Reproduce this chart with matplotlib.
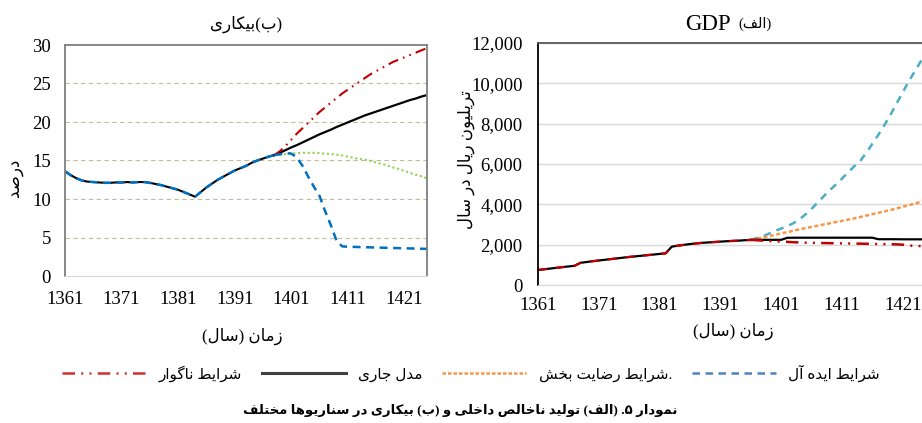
import numpy as np
import matplotlib
matplotlib.use('Agg')
import matplotlib.pyplot as plt
from matplotlib.lines import Line2D

plt.rcParams['font.family'] = ['Liberation Serif', 'DejaVu Sans']

# Persian letters -> (isolated, final, initial, medial) presentation forms
FORMS = {
    'ا': ('\uFE8D', '\uFE8E', None, None),
    'آ': ('\uFE81', '\uFE82', None, None),
    'ب': ('\uFE8F', '\uFE90', '\uFE91', '\uFE92'),
    'پ': ('\uFB56', '\uFB57', '\uFB58', '\uFB59'),
    'ت': ('\uFE95', '\uFE96', '\uFE97', '\uFE98'),
    'ج': ('\uFE9D', '\uFE9E', '\uFE9F', '\uFEA0'),
    'خ': ('\uFEA5', '\uFEA6', '\uFEA7', '\uFEA8'),
    'د': ('\uFEA9', '\uFEAA', None, None),
    'ر': ('\uFEAD', '\uFEAE', None, None),
    'ز': ('\uFEAF', '\uFEB0', None, None),
    'س': ('\uFEB1', '\uFEB2', '\uFEB3', '\uFEB4'),
    'ش': ('\uFEB5', '\uFEB6', '\uFEB7', '\uFEB8'),
    'ص': ('\uFEB9', '\uFEBA', '\uFEBB', '\uFEBC'),
    'ض': ('\uFEBD', '\uFEBE', '\uFEBF', '\uFEC0'),
    'ط': ('\uFEC1', '\uFEC2', '\uFEC3', '\uFEC4'),
    'ف': ('\uFED1', '\uFED2', '\uFED3', '\uFED4'),
    'ک': ('\uFB8E', '\uFB8F', '\uFB90', '\uFB91'),
    'گ': ('\uFB92', '\uFB93', '\uFB94', '\uFB95'),
    'ل': ('\uFEDD', '\uFEDE', '\uFEDF', '\uFEE0'),
    'م': ('\uFEE1', '\uFEE2', '\uFEE3', '\uFEE4'),
    'ن': ('\uFEE5', '\uFEE6', '\uFEE7', '\uFEE8'),
    'و': ('\uFEED', '\uFEEE', None, None),
    'ه': ('\uFEE9', '\uFEEA', '\uFEEB', '\uFEEC'),
    'ی': ('\uFBFC', '\uFBFD', '\uFBFE', '\uFBFF'),
}


def fa(s):
    # join letters and flip to visual (left-to-right) order
    out = []
    for i, ch in enumerate(s):
        if ch not in FORMS:
            out.append(ch)
            continue
        prev = s[i - 1] if i > 0 else ''
        nxt = s[i + 1] if i < len(s) - 1 else ''
        jp = prev in FORMS and FORMS[prev][2] is not None
        jn = nxt in FORMS and FORMS[ch][2] is not None
        iso, fin, ini, med = FORMS[ch]
        if jp and jn:
            out.append(med)
        elif jp:
            out.append(fin)
        elif jn:
            out.append(ini)
        else:
            out.append(iso)
    mirror = {'(': ')', ')': '('}
    return ''.join(mirror.get(c, c) for c in reversed(out))


# ---------------- data ----------------
years = np.arange(1361, 1426)
hist_years = years[years <= 1398]
fut_years = years[years >= 1398]

# unemployment (%), common history 1361-1398
unemp_hist = [13.6, 13.1, 12.7, 12.4, 12.25, 12.2, 12.15, 12.1, 12.1, 12.15,
              12.15, 12.2, 12.15, 12.2, 12.2, 12.1, 11.95, 11.8, 11.6, 11.4,
              11.2, 10.9, 10.6, 10.3, 10.9, 11.5, 12.0, 12.5, 12.9, 13.3,
              13.7, 14.0, 14.3, 14.7, 15.0, 15.25, 15.5, 15.7]
# 1398-1425 by scenario
unemp_current = [15.7, 16.0, 16.35, 16.7, 17.0, 17.35, 17.7, 18.05, 18.4, 18.7,
                 19.0, 19.35, 19.65, 19.95, 20.25, 20.55, 20.85, 21.1, 21.35,
                 21.6, 21.85, 22.1, 22.35, 22.6, 22.85, 23.05, 23.3, 23.5]
unemp_bad = [15.7, 16.2, 16.9, 17.7, 18.5, 19.2, 19.9, 20.6, 21.3, 21.9,
             22.5, 23.1, 23.7, 24.2, 24.7, 25.2, 25.7, 26.2, 26.6, 27.0,
             27.4, 27.8, 28.1, 28.4, 28.7, 29.0, 29.3, 29.6]
unemp_satisf = [15.7, 15.75, 15.85, 15.9, 15.95, 16.0, 16.0, 16.0, 15.95, 15.9,
                15.85, 15.75, 15.65, 15.5, 15.35, 15.2, 15.1, 14.95, 14.75,
                14.55, 14.35, 14.1, 13.9, 13.65, 13.4, 13.15, 12.95, 12.7]
unemp_ideal = [15.7, 15.8, 15.95, 15.9, 15.4, 14.3, 12.9, 11.6, 10.4, 8.4,
               6.6, 4.6, 3.85, 3.8, 3.78, 3.76, 3.74, 3.72, 3.7, 3.68,
               3.66, 3.64, 3.62, 3.6, 3.58, 3.56, 3.54, 3.52]

# GDP (trillion rial), common history 1361-1396
gdp_years_hist = years[years <= 1396]
gdp_years_fut = years[years >= 1396]
gdp_hist = [744, 780, 815, 850, 885, 920, 950, 1100, 1140, 1180,
            1215, 1250, 1285, 1320, 1355, 1390, 1420, 1450, 1480, 1510,
            1540, 1570, 1900, 1950, 1990, 2030, 2060, 2090, 2110, 2130,
            2150, 2170, 2185, 2200, 2220, 2235]
# 1396-1425 by scenario
gdp_current = [2235, 2240, 2240, 2240, 2240, 2240, 2340, 2345, 2345, 2345,
               2345, 2345, 2345, 2345, 2345, 2345, 2345, 2345, 2345, 2345,
               2345, 2270, 2270, 2270, 2270, 2265, 2265, 2265, 2265, 2265]
gdp_bad = [2235, 2220, 2200, 2180, 2170, 2150, 2140, 2120, 2110, 2100,
           2090, 2085, 2080, 2075, 2070, 2065, 2060, 2055, 2050, 2045,
           2040, 2030, 2025, 2020, 2015, 2000, 1960, 1940, 1930, 1920]
gdp_satisf = [2235, 2300, 2360, 2420, 2490, 2560, 2620, 2690, 2760, 2820,
              2880, 2940, 3000, 3060, 3120, 3180, 3240, 3300, 3370, 3440,
              3510, 3580, 3650, 3720, 3800, 3880, 3960, 4040, 4120, 4200]
gdp_ideal = [2235, 2330, 2420, 2550, 2680, 2800, 2920, 3060, 3250, 3500,
             3780, 4080, 4400, 4700, 4980, 5270, 5580, 5880, 6150, 6550,
             7000, 7450, 7930, 8450, 9000, 9550, 10100, 10600, 11100, 11600]

xticks = [1361, 1371, 1381, 1391, 1401, 1411, 1421]

lbl_ideal = fa('شرایط ایده آل')
lbl_satisf = fa('.شرایط رضایت بخش')
lbl_current = fa('مدل جاری')
lbl_bad = fa('شرایط ناگوار')

RED = '#C00000'
DASHDOT2 = (5, 2.5, 0.8, 2.5, 0.8, 2.5)

fig = plt.figure(figsize=(9.22, 4.23), dpi=100)
W, H = 922, 423

# ---------------- (b) unemployment ----------------
ax1 = fig.add_axes([65 / W, 1 - 276 / H, (427 - 65) / W, (276 - 45) / H])
ax1.plot(hist_years, unemp_hist, color='black', lw=1.5)
ax1.plot(fut_years, unemp_satisf, color='#92D050', lw=1.5, dashes=(1, 1.3))
ax1.plot(fut_years, unemp_current, color='black', lw=1.6)
ax1.plot(fut_years, unemp_bad, color=RED, lw=1.5, dashes=DASHDOT2)
ax1.plot(hist_years, unemp_hist, color='#0070C0', lw=1.8, dashes=(3.2, 2.2))
ax1.plot(fut_years, unemp_ideal, color='#0070C0', lw=1.8, dashes=(3.2, 2.2))
ax1.set_xlim(1361, 1425)
ax1.set_ylim(0, 30)
ax1.set_xticks(xticks)
ax1.set_yticks(range(0, 31, 5))
for v in range(5, 30, 5):
    ax1.axhline(v, color='#C4BD97', lw=0.8, dashes=(4, 3), zorder=0)
ax1.tick_params(length=0, labelsize=13.5)
ax1.tick_params(axis='x', pad=11)
ax1.tick_params(axis='y', pad=10)
for s in ['left', 'top', 'right']:
    ax1.spines[s].set_color('#7F7F7F')
    ax1.spines[s].set_linewidth(1.3)
ax1.spines['bottom'].set_color('#D9D9D9')
ax1.set_title(fa('(ب)بیکاری'), fontsize=12, pad=12)
fig.text(242 / W, 1 - 336 / H, fa('زمان (سال)'), ha='center', va='center', fontsize=12)
fig.text(15 / W, 1 - 178 / H, fa('درصد'), ha='center', va='center', fontsize=12, rotation=90)

# ---------------- (a) GDP ----------------
ax2 = fig.add_axes([538 / W, 1 - 285 / H, (927 - 538) / W, (285 - 43) / H])
ax2.plot(gdp_years_hist, gdp_hist, color='black', lw=1.6)
ax2.plot(gdp_years_fut, gdp_ideal, color='#4BACC6', lw=1.8, dashes=(3, 2.5))
ax2.plot(gdp_years_fut, gdp_satisf, color='#F79646', lw=1.8, dashes=(1.6, 1))
ax2.plot(gdp_years_fut, gdp_current, color='black', lw=1.6)
ax2.plot(gdp_years_fut, gdp_bad, color=RED, lw=1.8, dashes=DASHDOT2)
ax2.plot(gdp_years_hist, gdp_hist, color=RED, lw=1.6, dashes=(4, 4))
ax2.set_xlim(1361, 1425)
ax2.set_ylim(0, 12000)
ax2.set_xticks(xticks)
ax2.set_yticks(range(0, 12001, 2000))
ax2.set_yticklabels([f'{v:,}' for v in range(0, 12001, 2000)])
ax2.grid(axis='y', color='#D9D9D9', lw=1)
ax2.set_axisbelow(True)
ax2.tick_params(length=0, labelsize=13.5)
ax2.tick_params(axis='x', pad=9)
ax2.tick_params(axis='y', pad=11)
ax2.spines['left'].set_color('black')
ax2.spines['left'].set_linewidth(1.3)
ax2.spines['top'].set_color('#595959')
ax2.spines['top'].set_linewidth(1.3)
ax2.spines['right'].set_visible(False)
ax2.spines['bottom'].set_color('#D9D9D9')
fig.text(731 / W, 1 - 24 / H, 'GDP', ha='right', va='center', fontsize=16.5)
fig.text(738 / W, 1 - 24 / H, fa('(الف)'), ha='left', va='center', fontsize=10.5)
fig.text(733 / W, 1 - 331 / H, fa('زمان (سال)'), ha='center', va='center', fontsize=12)
fig.text(466 / W, 1 - 160 / H, fa('تریلیون ریال در سال'), ha='center', va='center',
         fontsize=12, rotation=90)

# ---------------- legend + caption ----------------
handles = [
    Line2D([], [], color='#D03030', lw=1.8, dashes=DASHDOT2),
    Line2D([], [], color='#404040', lw=2.2),
    Line2D([], [], color='#F79646', lw=1.8, dashes=(1.4, 0.8)),
    Line2D([], [], color='#4F81BD', lw=1.8, dashes=(3, 2.2)),
]
fig.legend(handles, [lbl_bad, lbl_current, lbl_satisf, lbl_ideal],
           loc='center', bbox_to_anchor=(471 / W, 1 - 373 / H), ncol=4,
           frameon=False, fontsize=11, handlelength=5.5, handletextpad=0.8,
           columnspacing=1.3)
fig.text(460 / W, 1 - 410 / H,
         fa('نمودار ۵. (الف) تولید ناخالص داخلی و (ب) بیکاری در سناریوها مختلف'),
         ha='center', va='center', fontsize=9.5, fontweight='bold')

fig.savefig('out.png', dpi=100)
